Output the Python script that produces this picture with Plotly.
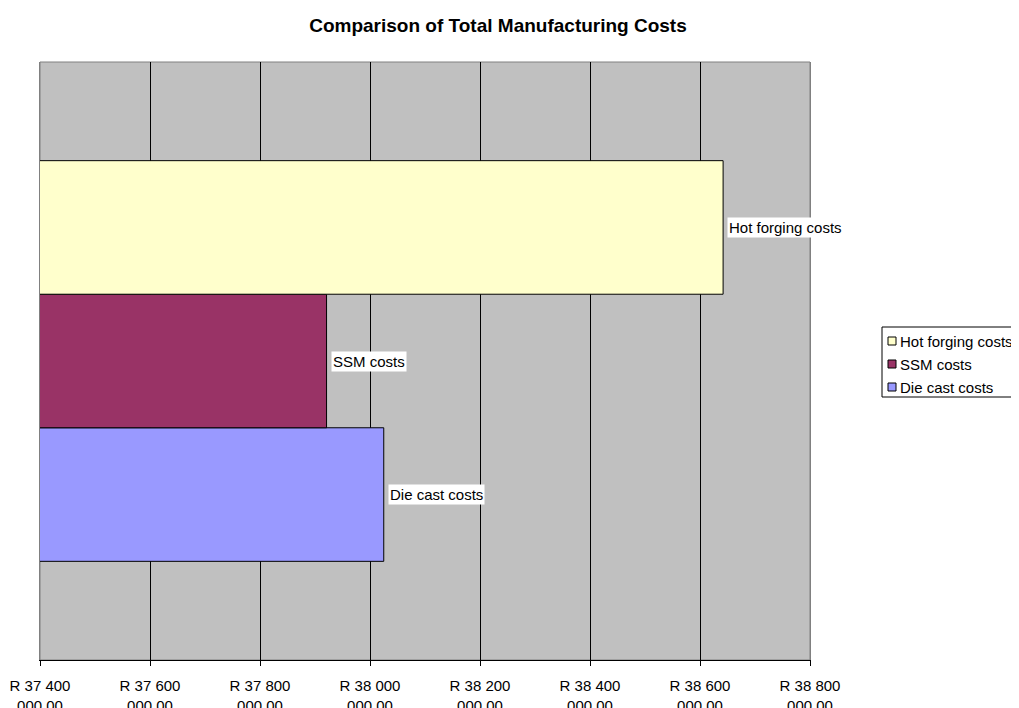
import plotly.graph_objects as go

series_names = ["Hot forging costs", "SSM costs", "Die cast costs"]
series_values = [38642000, 37921000, 38025000]
series_colors = ["#FFFFCC", "#993366", "#9999FF"]
category = ["Total"]
tick_values = [37400000, 37600000, 37800000, 38000000, 38200000, 38400000, 38600000, 38800000]
tick_labels = ["R 37 400<br>000,00", "R 37 600<br>000,00", "R 37 800<br>000,00", "R 38 000<br>000,00",
               "R 38 200<br>000,00", "R 38 400<br>000,00", "R 38 600<br>000,00", "R 38 800<br>000,00"]

FONT = "Liberation Sans, Arial, sans-serif"
# page body has an 8px margin; layout numbers below are in page pixels
OFF = 8
W, H = 1019 - OFF, 708 - OFF
PL, PR, PT, PB = 40, 810, 62, 660
pw, ph = PR - PL, PB - PT

def px(x):
    return (x - PL) / pw

def py(y):
    return (PB - y) / ph

bargap = 0.33
fig = go.Figure()
order = list(range(len(series_names)))[::-1]
for i in order:
    fig.add_trace(go.Bar(
        y=category, x=[series_values[i]], name=series_names[i], orientation="h",
        marker=dict(color=series_colors[i], line=dict(color="black", width=1)),
    ))

n = len(series_names)
bw = (1 - bargap) / n
annotations = []
for k, i in enumerate(order):
    yc = -(1 - bargap) / 2 + bw * (k + 0.5)
    annotations.append(dict(
        x=series_values[i], y=yc, xref="x", yref="y", text=series_names[i],
        showarrow=False, xanchor="left", yanchor="middle", xshift=4,
        bgcolor="white", borderpad=1, font=dict(family=FONT, size=15, color="black"),
    ))

# custom legend
shapes = [dict(type="rect", xref="paper", yref="paper", x0=0, x1=1, y0=0, y1=1,
               line=dict(color="#808080", width=1), layer="below"),
          dict(type="rect", xref="paper", yref="paper", x0=px(882), x1=px(1017), y0=py(397), y1=py(327),
               line=dict(color="black", width=1), fillcolor="white", layer="above")]
rows = [341, 364, 387]
for i, name in enumerate(series_names):
    yc = rows[i]
    shapes.append(dict(type="rect", xref="paper", yref="paper", x0=px(888), x1=px(896),
                       y0=py(yc + 4), y1=py(yc - 4),
                       line=dict(color="black", width=1), fillcolor=series_colors[i], layer="above"))
    annotations.append(dict(x=px(898), y=py(yc), xref="paper", yref="paper", text=name,
                            showarrow=False, xanchor="left", yanchor="middle",
                            font=dict(family=FONT, size=15, color="black")))

fig.update_layout(
    width=W, height=H,
    margin=dict(l=PL - OFF, r=OFF + W - PR, t=PT - OFF, b=OFF + H - PB, autoexpand=False),
    paper_bgcolor="white", plot_bgcolor="#C0C0C0",
    barmode="group", bargap=bargap, bargroupgap=0,
    title=dict(text="<b>Comparison of Total Manufacturing Costs</b>",
               x=(498 - OFF) / W, xref="container", xanchor="center",
               y=1 - (25 - OFF) / H, yref="container", yanchor="middle",
               font=dict(family=FONT, size=19, color="black")),
    font=dict(family=FONT, size=15, color="black"),
    showlegend=False,
    annotations=annotations,
    shapes=shapes,
)
fig.update_xaxes(range=[tick_values[0], tick_values[-1]], tickvals=tick_values, ticktext=tick_labels,
                 showgrid=True, gridcolor="black", gridwidth=1, zeroline=False,
                 showline=True, linecolor="black", linewidth=1,
                 ticks="outside", ticklen=5, tickcolor="black", automargin=False,
                 ticklabelstandoff=7,
                 tickfont=dict(family=FONT, size=15, color="black"))
fig.update_yaxes(showticklabels=False, showgrid=False, zeroline=False, range=[-0.5, 0.5],
                 showline=True, linecolor="#808080", mirror=True, automargin=False)

fig.write_html("out.html")
